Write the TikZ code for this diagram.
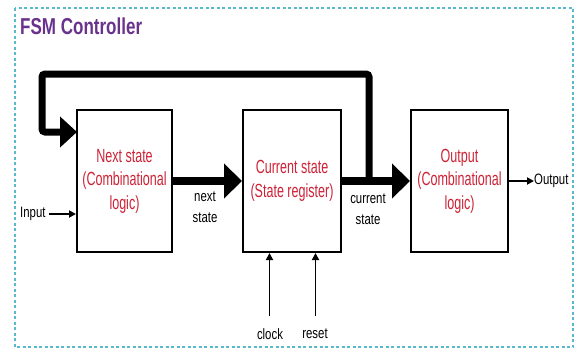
\documentclass[tikz,border=0pt]{standalone}
\usepackage{fontspec}
\setmainfont{Liberation Sans}
\newfontfamily\titlefont[FakeStretch=0.74]{Liberation Sans Bold}
\newfontfamily\boxfont[FakeStretch=0.66]{Liberation Sans}
\newfontfamily\labelfont[FakeStretch=0.76]{Liberation Sans}
\usetikzlibrary{arrows.meta}
\definecolor{framecol}{RGB}{90,185,205}
\definecolor{titlecol}{RGB}{105,50,140}
\definecolor{boxtext}{RGB}{205,35,55}
\tikzset{
  block/.style={draw=black, line width=2pt, fill=white, minimum width=#1, minimum height=142pt,
    inner sep=0pt, align=center, text=boxtext, font=\boxfont\fontsize{19}{23.5}\selectfont},
  lbl/.style={inner sep=0pt, align=center, text=black, font=\labelfont\fontsize{15}{21}\selectfont},
  busarrow/.style={line width=8pt, -{Triangle[length=18pt,width=34pt]}},
  looparrow/.style={line width=7pt, rounded corners=3pt, -{Triangle[length=17pt,width=30pt]}},
  sigarrow/.style={line width=1.8pt, -{Triangle[length=7pt,width=7pt]}}
}
\begin{document}
\begin{tikzpicture}[x=1pt, y=-1pt]
  \useasboundingbox (0,0) rectangle (577,354);
  \fill[white] (0,0) rectangle (577,354);
  % dashed frame and title
  \draw[framecol, line width=1.2pt, dash pattern=on 3pt off 2.5pt] (15,8) rectangle (573,347);
  \node[anchor=base west, inner sep=0pt, text=titlecol, font=\titlefont\fontsize{23}{26}\selectfont]
    (title) at (20,34) {FSM Controller};

  % the three blocks
  \node[block=95pt]  (ns)  at (124.5,181) {Next state\\(Combinational\\logic)};
  \node[block=98pt]  (cs)  at (292,181)   {Current state\\(State register)};
  \node[block=97pt]  (out) at (459.5,181) {Output\\(Combinational\\logic)};

  % data path
  \draw[busarrow] (ns.east) -- (cs.west);
  \draw[busarrow] (cs.east) -- (out.west);

  % feedback of the current state
  \coordinate (tap) at (369,181);
  \coordinate (ul)  at (42,74);
  \coordinate (fbin) at (77,132);
  \draw[looparrow] (tap) |- (ul) |- (fbin);

  % bus labels
  \node[lbl] (nslbl) at (205,207.5) {next\\state};
  \node[lbl] (cslbl) at (368,209.5) {current\\state};

  % input and output
  \node[lbl, anchor=west] (inlbl) at (20,214) {Input};
  \path (inlbl.east) ++(3pt,0) coordinate (instart);
  \draw[sigarrow] (instart) -- (instart -| ns.west);
  \node[lbl, anchor=west] (outlbl) at (534,181) {Output};
  \draw[sigarrow] (out.east) -- (outlbl.west);

  % clock and reset
  \node[lbl] (clk) at (270,334) {clock};
  \node[lbl] (rst) at (315,334) {reset};
  \coordinate (clkin) at (269.5,316);
  \coordinate (rstin) at (315.5,316);
  \draw[sigarrow] (clkin) -- (clkin |- cs.south);
  \draw[sigarrow] (rstin) -- (rstin |- cs.south);
\end{tikzpicture}
\end{document}
